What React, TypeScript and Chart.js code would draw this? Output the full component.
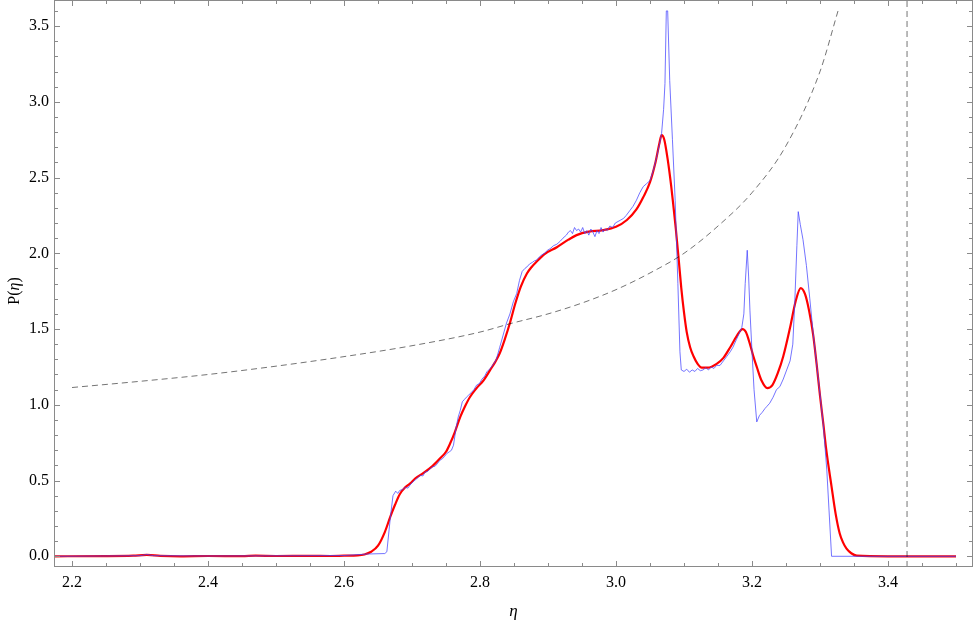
import { useEffect, useRef } from "react";
import { Chart, registerables } from "chart.js";
Chart.register(...registerables);

// ---- axes ----
const xTicks = [2.2, 2.4, 2.6, 2.8, 3.0, 3.2, 3.4];
const yTicks = [0, 0.5, 1, 1.5, 2, 2.5, 3, 3.5];
const xMin = 2.1735;
const xMax = 3.525;
const yMin = -0.0707;
const yMax = 3.672;
const xMinorStep = 0.05;
const yMinorStep = 0.1;
const xTitle = "η";
const yTitleParts = ["P(", "η", ")"];

// ---- histogram (blue, noisy) ----
const blueX = [
  2.17, 2.25, 2.3, 2.31, 2.32, 2.4, 2.5, 2.6, 2.634, 2.66, 2.663, 2.668, 2.672, 2.676, 2.679, 2.682,
  2.686, 2.69, 2.694, 2.697, 2.701, 2.705, 2.709, 2.712, 2.716, 2.719, 2.723, 2.726, 2.73, 2.734,
  2.737, 2.741, 2.745, 2.748, 2.751, 2.755, 2.758, 2.761, 2.765, 2.768, 2.771, 2.774, 2.777, 2.78,
  2.783, 2.787, 2.791, 2.795, 2.799, 2.803, 2.807, 2.81, 2.815, 2.82, 2.824, 2.829, 2.834, 2.839,
  2.844, 2.849, 2.854, 2.858, 2.862, 2.866, 2.869, 2.873, 2.877, 2.88, 2.883, 2.887, 2.891, 2.895,
  2.899, 2.903, 2.908, 2.913, 2.918, 2.922, 2.927, 2.93, 2.933, 2.936, 2.939, 2.942, 2.945, 2.948,
  2.951, 2.954, 2.957, 2.96, 2.963, 2.966, 2.969, 2.972, 2.975, 2.978, 2.981, 2.984, 2.987, 2.991,
  2.995, 2.999, 3.003, 3.007, 3.011, 3.015, 3.02, 3.025, 3.03, 3.035, 3.04, 3.045, 3.05, 3.055,
  3.06, 3.064, 3.067, 3.07, 3.072, 3.074, 3.076, 3.079, 3.083, 3.087, 3.091, 3.094, 3.096, 3.1,
  3.104, 3.108, 3.112, 3.116, 3.12, 3.124, 3.128, 3.132, 3.136, 3.14, 3.144, 3.148, 3.153, 3.158,
  3.163, 3.168, 3.172, 3.177, 3.181, 3.185, 3.188, 3.19, 3.193, 3.195, 3.197, 3.2, 3.203, 3.207,
  3.211, 3.215, 3.219, 3.222, 3.226, 3.231, 3.236, 3.241, 3.246, 3.251, 3.256, 3.26, 3.263, 3.266,
  3.268, 3.271, 3.275, 3.28, 3.285, 3.29, 3.295, 3.3, 3.305, 3.31, 3.317, 3.4, 3.5,
];
const blueY = [
  0.0, 0.002, 0.004, 0.012, 0.004, 0.002, 0.003, 0.005, 0.015, 0.018, 0.03, 0.25, 0.4, 0.43, 0.415, 0.435,
  0.44, 0.455, 0.45, 0.47, 0.49, 0.505, 0.52, 0.535, 0.53, 0.555, 0.56, 0.575, 0.59, 0.595,
  0.61, 0.634, 0.645, 0.66, 0.678, 0.69, 0.7, 0.733, 0.854, 0.92, 0.964, 1.02, 1.035, 1.05,
  1.063, 1.08, 1.1, 1.13, 1.14, 1.17, 1.19, 1.217, 1.24, 1.27, 1.3, 1.38, 1.46, 1.54,
  1.6, 1.68, 1.735, 1.82, 1.88, 1.9, 1.91, 1.93, 1.94, 1.95, 1.955, 1.975, 1.99, 2.0,
  2.02, 2.03, 2.05, 2.06, 2.08, 2.1, 2.12, 2.14, 2.15, 2.13, 2.17, 2.15, 2.16, 2.14,
  2.17, 2.13, 2.15, 2.12, 2.16, 2.14, 2.11, 2.15, 2.13, 2.17, 2.14, 2.16, 2.15, 2.18,
  2.17, 2.2, 2.21, 2.22, 2.23, 2.25, 2.28, 2.31, 2.35, 2.4, 2.44, 2.46, 2.48, 2.55,
  2.64, 2.72, 2.79, 2.95, 3.12, 3.6, 3.6, 3.14, 2.75, 2.35, 1.8, 1.35, 1.23, 1.22,
  1.235, 1.215, 1.23, 1.22, 1.24, 1.225, 1.23, 1.245, 1.23, 1.25, 1.24, 1.26, 1.26, 1.29,
  1.32, 1.35, 1.38, 1.43, 1.47, 1.51, 1.6, 1.8, 2.02, 1.85, 1.62, 1.35, 1.1, 0.887,
  0.93, 0.95, 0.975, 0.99, 1.01, 1.05, 1.1, 1.12, 1.17, 1.23, 1.29, 1.4, 1.69, 2.05,
  2.275, 2.19, 2.09, 1.92, 1.7, 1.47, 1.27, 1.07, 0.86, 0.57, 0.0, 0.0, 0.0,
];

// ---- smooth fit (red) ----
const redX = [
  2.17, 2.25, 2.29, 2.31, 2.33, 2.36, 2.4, 2.45, 2.47, 2.5, 2.55, 2.58, 2.6, 2.62, 2.63, 2.64,
  2.65, 2.66, 2.668, 2.675, 2.682, 2.69, 2.697, 2.705, 2.717, 2.73, 2.741, 2.75, 2.756, 2.763,
  2.771, 2.778, 2.785, 2.795, 2.805, 2.815, 2.822, 2.829, 2.837, 2.844, 2.852, 2.86, 2.869, 2.876,
  2.883, 2.895, 2.913, 2.93, 2.942, 2.96, 2.981, 3.0, 3.016, 3.03, 3.04, 3.05, 3.058, 3.064,
  3.067, 3.071, 3.076, 3.081, 3.084, 3.088, 3.092, 3.096, 3.1, 3.104, 3.109, 3.114, 3.12, 3.126,
  3.135, 3.148, 3.158, 3.168, 3.177, 3.186, 3.191, 3.197, 3.202, 3.207, 3.214, 3.2225, 3.23, 3.238,
  3.246, 3.256, 3.264, 3.2716, 3.278, 3.284, 3.29, 3.295, 3.3, 3.305, 3.309, 3.317, 3.323, 3.329,
  3.334, 3.339, 3.346, 3.354, 3.4, 3.5,
];
const redY = [
  0.0, 0.001, 0.004, 0.009, 0.003, 0.0, 0.002, 0.001, 0.004, 0.002, 0.003, 0.002, 0.004, 0.006, 0.012, 0.03,
  0.07, 0.16, 0.26, 0.34, 0.41, 0.455, 0.48, 0.515, 0.55, 0.595, 0.645, 0.69, 0.744, 0.82,
  0.92, 0.99, 1.05, 1.11, 1.16, 1.23, 1.28, 1.34, 1.44, 1.54, 1.67, 1.78, 1.867, 1.91,
  1.944, 1.995, 2.04, 2.09, 2.12, 2.143, 2.153, 2.175, 2.22, 2.29, 2.37, 2.47, 2.6, 2.73,
  2.78, 2.75, 2.62, 2.45, 2.33, 2.16, 1.97, 1.77, 1.61, 1.48, 1.38, 1.32, 1.27, 1.245,
  1.245, 1.27, 1.31, 1.38, 1.45, 1.5, 1.48, 1.4, 1.32, 1.25, 1.16, 1.11, 1.13, 1.21,
  1.32, 1.51, 1.68, 1.77, 1.73, 1.62, 1.46, 1.27, 1.06, 0.87, 0.71, 0.46, 0.28, 0.15,
  0.09, 0.05, 0.02, 0.004, 0.0, 0.0,
];

// ---- dashed reference curve ----
const dashX = [2.2, 2.3, 2.4, 2.5, 2.6, 2.7, 2.8, 2.844, 2.9, 2.952, 3.0, 3.05, 3.1, 3.15, 3.2, 3.25, 3.3, 3.3265];
const dashY = [1.114, 1.155, 1.2, 1.255, 1.318, 1.39, 1.48, 1.535, 1.6, 1.675, 1.76, 1.87, 2.0, 2.18, 2.4, 2.71, 3.2, 3.6];

// ---- vertical dashed marker ----
const markerX = 3.428;

const serif = "'Liberation Serif', 'Times New Roman', serif";

const framePlugin = {
  id: "frame",
  afterDatasetsDraw(chart: any) {
    const { ctx, chartArea: a, scales } = chart;
    const x = scales.x;
    const y = scales.y;
    ctx.save();
    ctx.strokeStyle = "#8a8a8a";
    ctx.lineWidth = 1;
    ctx.strokeRect(a.left + 0.5, a.top + 0.5, a.right - a.left - 1, a.bottom - a.top - 1);
    ctx.beginPath();
    const n0 = Math.ceil(xMin / xMinorStep - 1e-6);
    const n1 = Math.floor(xMax / xMinorStep + 1e-6);
    for (let n = n0; n <= n1; n++) {
      const v = n * xMinorStep;
      const major = xTicks.some((t) => Math.abs(t - v) < 1e-6);
      const len = major ? 6 : 4;
      const px = Math.round(x.getPixelForValue(v)) + 0.5;
      ctx.moveTo(px, a.bottom);
      ctx.lineTo(px, a.bottom - len);
      ctx.moveTo(px, a.top);
      ctx.lineTo(px, a.top + len);
    }
    const m0 = Math.ceil(yMin / yMinorStep - 1e-6);
    const m1 = Math.floor(yMax / yMinorStep + 1e-6);
    for (let m = m0; m <= m1; m++) {
      const v = m * yMinorStep;
      const major = yTicks.some((t) => Math.abs(t - v) < 1e-6);
      const len = major ? 6 : 4;
      const py = Math.round(y.getPixelForValue(v)) + 0.5;
      ctx.moveTo(a.left, py);
      ctx.lineTo(a.left + len, py);
      ctx.moveTo(a.right, py);
      ctx.lineTo(a.right - len, py);
    }
    ctx.stroke();

    // axis titles
    ctx.fillStyle = "#000";
    ctx.textBaseline = "alphabetic";
    ctx.font = `italic 17px ${serif}`;
    ctx.textAlign = "center";
    ctx.fillText(xTitle, (a.left + a.right) / 2, 616);

    ctx.translate(19, 291);
    ctx.rotate(-Math.PI / 2);
    ctx.textAlign = "left";
    const fonts = [`16px ${serif}`, `italic 16px ${serif}`, `16px ${serif}`];
    let total = 0;
    const widths = yTitleParts.map((p, i) => {
      ctx.font = fonts[i];
      const w = ctx.measureText(p).width;
      total += w;
      return w;
    });
    let cx = -total / 2;
    yTitleParts.forEach((p, i) => {
      ctx.font = fonts[i];
      ctx.fillText(p, cx, 0);
      cx += widths[i];
    });
    ctx.restore();
  },
};

const pts = (xs: number[], ys: number[]) => xs.map((v, i) => ({ x: v, y: ys[i] }));

export default function App() {
  const ref = useRef<HTMLCanvasElement | null>(null);
  useEffect(() => {
    if (!ref.current) return;
    const chart = new Chart(ref.current, {
      type: "scatter",
      data: {
        datasets: [
          {
            data: pts(dashX, dashY),
            showLine: true,
            borderColor: "rgba(0,0,0,0.55)",
            borderWidth: 1,
            borderDash: [6, 4],
            pointRadius: 0,
            cubicInterpolationMode: "monotone",
          },
          {
            data: [
              { x: markerX, y: yMin },
              { x: markerX, y: yMax },
            ],
            showLine: true,
            borderColor: "rgba(0,0,0,0.55)",
            borderWidth: 1,
            borderDash: [6, 4],
            pointRadius: 0,
          },
          {
            data: pts(blueX, blueY),
            showLine: true,
            borderColor: "rgba(70,70,255,0.75)",
            borderWidth: 1,
            pointRadius: 0,
            tension: 0,
          },
          {
            data: pts(redX, redY),
            showLine: true,
            borderColor: "#ff0000",
            borderWidth: 2.2,
            pointRadius: 0,
            cubicInterpolationMode: "monotone",
          },
        ],
      } as any,
      options: {
        animation: false,
        responsive: false,
        layout: { padding: { top: 0, right: 1, left: 0, bottom: 0 } },
        plugins: { legend: { display: false }, tooltip: { enabled: false } },
        scales: {
          x: {
            type: "linear",
            min: xMin,
            max: xMax,
            grid: { display: false, drawTicks: false },
            border: { display: false },
            ticks: {
              font: { family: serif, size: 16 },
              color: "#000",
              padding: 6,
              autoSkip: false,
              maxRotation: 0,
              callback: (v: any) => Number(v).toFixed(1),
            },
            afterBuildTicks: (s: any) => {
              s.ticks = xTicks.map((v) => ({ value: v }));
            },
            afterFit: (s: any) => {
              s.height = 57;
              s.paddingLeft = 0;
              s.paddingRight = 0;
            },
          },
          y: {
            type: "linear",
            min: yMin,
            max: yMax,
            grid: { display: false, drawTicks: false },
            border: { display: false },
            ticks: {
              font: { family: serif, size: 16 },
              color: "#000",
              padding: 5,
              autoSkip: false,
              callback: (v: any) => Number(v).toFixed(1),
            },
            afterBuildTicks: (s: any) => {
              s.ticks = yTicks.map((v) => ({ value: v }));
            },
            afterFit: (s: any) => {
              s.width = 54;
              s.paddingTop = 0;
              s.paddingBottom = 0;
            },
          },
        },
      } as any,
      plugins: [framePlugin],
    });
    return () => chart.destroy();
  }, []);
  return (
    <div style={{ position: "fixed", left: 0, top: 0, width: 974, height: 624, background: "#fff" }}>
      <canvas ref={ref} width={974} height={624} style={{ display: "block" }} />
    </div>
  );
}
